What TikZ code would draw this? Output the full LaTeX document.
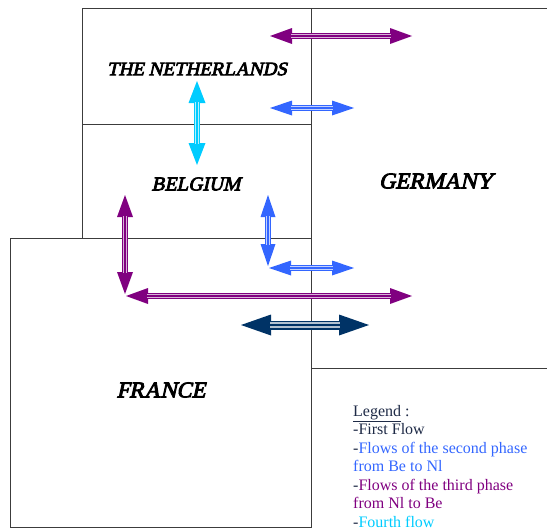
\documentclass[tikz,border=0pt]{standalone}
\usepackage{fontspec}
\setmainfont{Liberation Serif}
\newfontfamily\labelfont{Liberation Serif}[FakeSlant=0.22, FakeBold=4]
\usetikzlibrary{arrows.meta}

\definecolor{flowpurple}{RGB}{128,0,128}
\definecolor{flowblue}{RGB}{51,102,255}
\definecolor{flowcyan}{RGB}{0,204,255}
\definecolor{flownavy}{RGB}{0,51,102}
\definecolor{legendnavy}{RGB}{30,42,70}
\definecolor{bordergray}{RGB}{60,60,60}

% flow arrow: colour, shaft width, tip length, tip width, from, to
\newcommand{\flow}[6]{
  \draw[#1, line width=#2, {Triangle[length=#3, width=#4, line width=0pt]}-{Triangle[length=#3, width=#4, line width=0pt]}] (#5) -- (#6);
  \draw[#1!30, line width=0.6*#2, shorten <=#3-1pt, shorten >=#3-1pt] (#5) -- (#6);
  \draw[#1, line width=0.2*#2, shorten <=#3-1pt, shorten >=#3-1pt] (#5) -- (#6);
}

\tikzset{
  border/.style={draw=bordergray, line width=1pt},
  country/.style={font=\labelfont\fontsize{#1}{#1}\selectfont, inner sep=0pt},
  legendline/.style={anchor=base west, inner sep=0pt, text=legendnavy,
    font=\fontsize{16}{18}\selectfont}
}

\begin{document}
\begin{tikzpicture}[x=1pt, y=-1pt]
    \useasboundingbox (0,0) rectangle (547,530);

    % Pays
    \draw[border] (82,8) rectangle (311,124);
    \draw[border] (82,124) rectangle (311,238);
    \draw[border] (10,238) rectangle (311,527);
    \draw[border] (311,8) rectangle (550,368);

    \node[country=19] (nl) at (197,69) {THE NETHERLANDS};
    \node[country=19.5] (be) at (196,184) {BELGIUM};
    \node[country=22.5] (de) at (436,181) {GERMANY};
    \node[country=22.5] (fr) at (161,390) {FRANCE};

    % Extrémités des flux
    \coordinate (pt1) at (270,36);   \coordinate (pt2) at (412,36);
    \coordinate (bt1) at (270,108);  \coordinate (bt2) at (354,108);
    \coordinate (cy1) at (197,81);   \coordinate (cy2) at (197,165);
    \coordinate (pv1) at (125,195);  \coordinate (pv2) at (125,294);
    \coordinate (ph1) at (126,296);  \coordinate (ph2) at (412,296);
    \coordinate (bv1) at (268,195);  \coordinate (bv2) at (268,266);
    \coordinate (bh1) at (269,268);  \coordinate (bh2) at (354,268);
    \coordinate (nv1) at (241,325);  \coordinate (nv2) at (369,325);

    % Flux
    \flow{flowpurple}{6pt}{22pt}{16pt}{pt1}{pt2}
    \flow{flowblue}{6pt}{22pt}{15pt}{bt1}{bt2}
    \flow{flowcyan}{6pt}{22pt}{17pt}{cy1}{cy2}
    \flow{flowpurple}{6pt}{22pt}{16pt}{pv1}{pv2}
    \flow{flowpurple}{6pt}{22pt}{16pt}{ph1}{ph2}
    \flow{flowblue}{6pt}{22pt}{15pt}{bv1}{bv2}
    \flow{flowblue}{6pt}{22pt}{15pt}{bh1}{bh2}
    \flow{flownavy}{9pt}{30pt}{21pt}{nv1}{nv2}

    % Légende
    \foreach \ypos/\txt [count=\i] in {
        416/{\underline{Legend} :},
        434.5/{-First Flow},
        453/{-\textcolor{flowblue}{Flows of the second phase}},
        471.5/{\textcolor{flowblue}{from Be to Nl}},
        490/{-\textcolor{flowpurple}{Flows of the third phase}},
        508.5/{\textcolor{flowpurple}{from Nl to Be}},
        527/{-\textcolor{flowcyan}{Fourth flow}}}
      \node[legendline] (leg\i) at (353,\ypos) {\txt};
\end{tikzpicture}
\end{document}
